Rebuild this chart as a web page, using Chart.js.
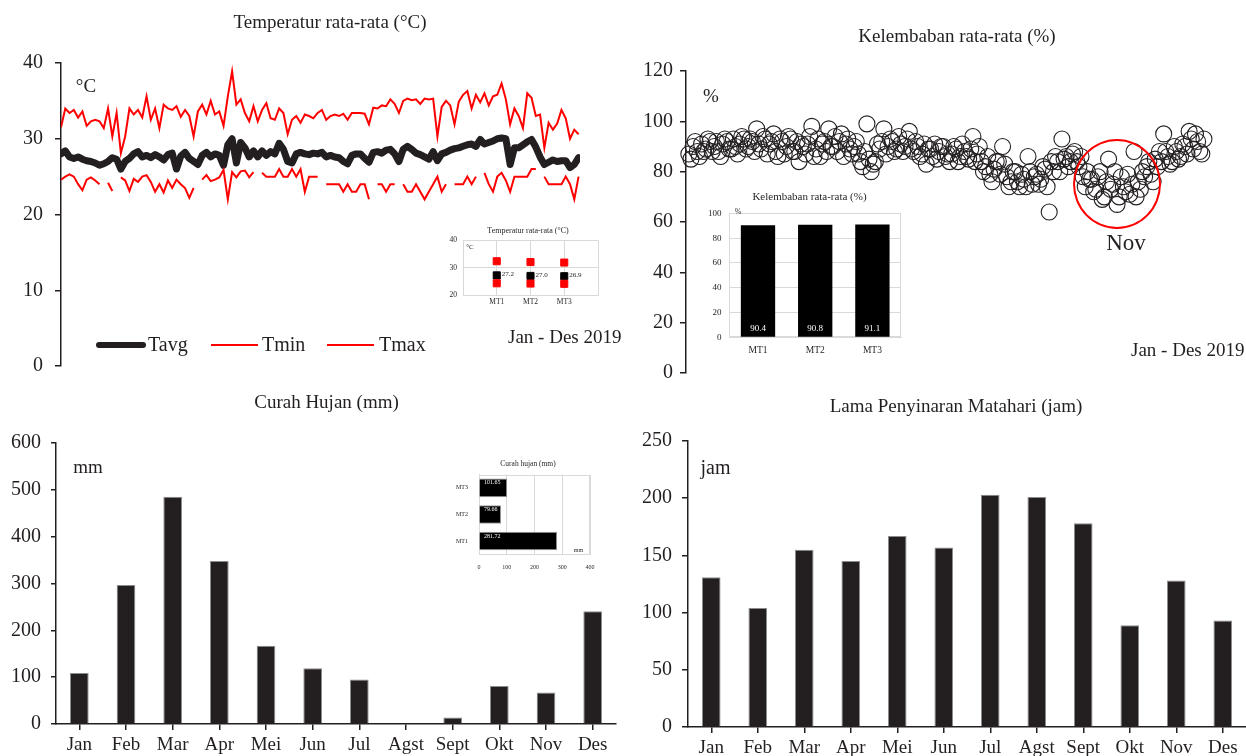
<!DOCTYPE html>
<html><head><meta charset="utf-8">
<script src="https://cdn.jsdelivr.net/npm/chart.js@4.4.1/dist/chart.umd.min.js"></script>
<style>
html,body{margin:0;padding:0;background:#fff;overflow:hidden;width:1246px;height:756px;position:relative;font-family:'Liberation Serif','Times New Roman',serif;color:#231f20}
canvas{position:absolute}
.t{position:absolute;white-space:nowrap;line-height:1}
.ln{position:absolute}
</style></head><body>
<script>
// ---------- DATA ----------
const months = ['Jan','Feb','Mar','Apr','Mei','Jun','Jul','Agst','Sept','Okt','Nov','Des'];
const rainfall = [109,297,485,348,167,119,95,0,14,81,67,241];
const sunshine = [131,104,155,145,167,157,203,201,178,89,128,93];
const stations = ['MT1','MT2','MT3'];
const stTmax = [32.4,32.1,31.9];
const stTavg = [27.2,27.0,26.9];
const stTmin = [24.3,24.2,24.1];
const stHumidity = [90.4,90.8,91.1];
const stRain = [281.72,79.66,101.65];
const dayStep = 3; // one sample every 3 days, first sample = day 1
const tmax = [31.5,34.0,33.4,33.8,32.8,33.6,31.7,32.3,32.5,32.3,
 31.4,34.0,30.3,33.4,28.1,30.3,34.0,33.2,33.8,32.8,
 35.6,32.5,34.0,31.4,34.5,34.0,33.8,34.3,32.9,33.8,
 33.0,30.3,33.6,34.5,33.2,35.0,33.2,33.6,31.7,35.6,
 38.9,34.5,35.2,33.4,32.3,34.3,32.3,33.8,34.7,32.7,
 32.5,34.0,33.4,30.6,32.5,33.0,32.1,33.2,33.0,32.7,
 33.4,33.8,
 32.5,33.0,33.2,33.0,33.3,32.5,33.4,33.4,33.4,33.3,
 31.9,34.1,34.0,34.4,34.3,35.2,34.6,33.4,35.0,35.3,
 35.1,35.2,34.6,35.3,35.2,35.3,30.3,34.2,35.0,34.4,
 31.9,34.9,35.8,36.3,34.0,35.8,34.8,36.0,34.4,35.6,
 35.8,37.3,35.2,31.9,34.0,33.0,31.4,36.0,35.4,33.0,
 33.2,28.8,32.1,31.2,32.0,33.8,32.7,30.0,31.2,30.6];
const tavg = [28.0,28.4,27.6,27.4,27.6,27.3,27.1,27.0,26.8,26.5,
 26.7,27.0,27.5,27.3,26.0,27.0,27.4,28.0,28.3,27.6,
 27.8,27.5,27.9,27.6,27.2,27.9,28.1,26.0,27.7,28.2,
 27.4,27.0,26.6,27.8,28.2,27.6,28.0,27.8,26.5,29.2,
 30.0,26.8,29.5,28.8,27.6,28.4,27.6,28.4,27.8,28.3,
 28.0,29.4,28.6,27.0,26.8,28.0,28.2,28.0,27.9,28.1,
 28.0,28.2,
 27.6,27.8,27.6,27.5,27.0,26.7,27.8,28.0,28.0,27.4,
 26.9,28.2,28.3,28.1,28.5,28.6,28.0,27.0,28.6,29.0,
 28.6,28.1,27.9,27.6,27.3,28.3,27.1,28.0,28.2,28.5,
 28.7,28.8,29.0,29.2,29.3,29.0,29.9,29.3,29.5,29.7,
 30.0,30.1,30.0,26.6,28.8,28.8,29.2,29.6,29.9,28.9,
 27.6,26.6,26.9,27.2,27.0,27.1,27.1,26.2,26.6,27.5];
const tmin = [24.6,25.0,25.3,25.0,24.0,23.2,24.6,24.9,24.5,24.0,
 null,24.2,23.1,null,24.9,24.5,23.1,24.7,24.3,25.0,
 25.2,24.3,23.0,24.0,22.9,24.5,23.5,24.6,24.0,23.5,
 22.2,23.5,null,24.6,25.2,24.4,24.6,24.9,25.9,22.0,
 25.6,24.9,25.7,25.8,24.9,25.6,null,25.5,25.0,25.0,
 25.0,26.0,25.0,25.0,26.0,25.0,26.0,23.0,25.0,25.0,
 25.0,null,
 24.0,24.0,24.0,24.0,23.0,24.0,23.0,23.0,24.0,24.0,
 22.0,null,24.0,24.0,23.0,24.0,24.0,null,24.0,23.0,
 23.0,24.0,23.0,22.0,23.0,24.0,25.0,23.0,24.0,null,
 24.0,24.0,24.0,25.0,24.0,25.0,null,25.5,24.0,23.0,
 25.0,25.5,24.5,23.0,25.0,25.0,25.0,25.0,26.0,26.0,
 null,25.0,24.0,24.0,24.0,24.0,25.0,24.0,22.0,25.0];
// humidity: main readings (days 1,4,7,...) and in-between readings (days 2.5,5.5,...)
const humidity = [87,90,88,91,89,92,90,88,91,92,
 89,90,91,93,90,92,97,89,93,91,
 95,86,92,90,93,88,84,90,91,98,
 89,86,92,97,90,88,95,91,89,90,
 87,82,99,80,84,89,97,90,92,89,
 91,90,96,88,90,87,83,89,91,88,
 90,87,
 87,89,86,88,85,94,87,84,82,79,
 81,84,90,78,76,80,74,77,86,75,
 79,77,81,64,80,84,93,86,84,88,
 82,78,80,77,73,80,70,85,75,67,
 78,72,71,88,76,80,82,79,85,88,
 95,86,84,88,86,90,96,89,92,87];
const humidityB = [85,92,86,88,93,88,92,86,93,89,
 93,87,94,89,93,88,91,94,87,92,
 88,93,87,94,88,92,91,87,94,86,
 93,91,88,90,94,92,86,93,87,92,
 84,88,85,83,91,92,87,93,88,94,
 88,93,89,92,86,91,89,86,85,90,
 86,84,
 90,84,91,86,89,84,90,80,86,76,
 84,79,83,74,80,76,79,74,80,78,
 75,82,74,84,86,80,85,82,87,84,
 86,74,77,72,78,69,76,73,80,70,
 74,79,75,70,73,78,84,76,82,84,
 88,83,90,85,91,87,93,95,88,93];

// ---------- SETUP ----------
const F = "'Liberation Serif','Times New Roman',serif";
const INK = '#231f20';
const GRID = '#d9d9d9';
Chart.defaults.font.family = F;
Chart.defaults.color = INK;
Chart.defaults.animation = false;
Chart.defaults.responsive = false;
Chart.defaults.events = [];
Chart.defaults.plugins.legend.display = false;
Chart.defaults.plugins.tooltip.enabled = false;
Chart.defaults.plugins.title.display = false;

function mk(left, top, w, h) {
  const c = document.createElement('canvas');
  c.width = w; c.height = h;
  c.style.left = left + 'px'; c.style.top = top + 'px';
  c.style.width = w + 'px'; c.style.height = h + 'px';
  document.body.appendChild(c);
  return c.getContext('2d');
}
function txt(s, x, base, size, align, color) {
  const d = document.createElement('div');
  d.className = 't';
  d.textContent = s;
  d.style.fontSize = size + 'px';
  d.style.top = (base - 0.8375 * size) + 'px';
  d.style.left = x + 'px';
  if (align === 'center') d.style.transform = 'translateX(-50%)';
  if (color) d.style.color = color;
  document.body.appendChild(d);
}
function line(x, y, w, h, color, r) {
  const d = document.createElement('div');
  d.className = 'ln';
  d.style.left = x + 'px'; d.style.top = (y - h / 2) + 'px';
  d.style.width = w + 'px'; d.style.height = h + 'px';
  d.style.background = color;
  if (r) d.style.borderRadius = r + 'px';
  document.body.appendChild(d);
}
function mainY(min, max, step, width, pad, tl) {
  return { min, max,
    ticks: { stepSize: step, font: { size: 20 }, padding: pad, color: INK },
    grid: { drawOnChartArea: false, color: INK, tickLength: tl, lineWidth: 1.5 },
    border: { color: INK, width: 1.5 },
    afterFit(s) { s.width = width; } };
}
function mainX(height, pad) {
  return { ticks: { font: { size: 19 }, padding: pad, color: INK, autoSkip: false, maxRotation: 0 },
    grid: { drawOnChartArea: false, offset: false, color: INK, tickLength: 6, lineWidth: 1.5 },
    border: { color: INK, width: 1.5 },
    afterFit(s) { s.height = height; } };
}
const frame = { id: 'frame', beforeDatasetsDraw(chart) {
  const a = chart.chartArea, c = chart.ctx;
  c.save(); c.strokeStyle = GRID; c.lineWidth = 1;
  c.strokeRect(Math.round(a.left) + 0.5, Math.round(a.top) + 0.5, Math.round(a.right - a.left) - 1, Math.round(a.bottom - a.top) - 1);
  c.restore(); } };
const pts = (arr, first) => arr.map((v, i) => ({ x: (first || 1) + dayStep * i, y: v }));

// ---------- TEMPERATURE (top-left) ----------
new Chart(mk(0, 0, 640, 390), {
  type: 'line',
  data: { datasets: [
    { label: 'Tmax', data: pts(tmax), borderColor: '#ff0000', borderWidth: 2, pointRadius: 0, tension: 0 },
    { label: 'Tmin', data: pts(tmin), borderColor: '#ff0000', borderWidth: 2, pointRadius: 0, tension: 0, spanGaps: false },
    { label: 'Tavg', data: pts(tavg), borderColor: INK, borderWidth: 7, pointRadius: 0, tension: 0, borderJoinStyle: 'round', borderCapStyle: 'round' }
  ] },
  options: {
    layout: { padding: { left: 0, right: 60, top: 63, bottom: 22 } },
    scales: { x: { type: 'linear', min: 1, max: 365, display: false }, y: mainY(0, 40, 10, 61, 12, 6) }
  }
});

// ---------- HUMIDITY (top-right) ----------
const circ = { pointRadius: 8, pointBorderWidth: 1.1, pointBorderColor: INK, pointBackgroundColor: 'rgba(0,0,0,0)', showLine: false, clip: false };
new Chart(mk(640, 0, 620, 392), {
  type: 'scatter',
  data: { datasets: [
    Object.assign({ label: 'RH', data: pts(humidity, 1) }, circ),
    Object.assign({ label: 'RH b', data: pts(humidityB, 2.5) }, circ)
  ] },
  options: {
    layout: { padding: { left: 0, right: 20, top: 71, bottom: 16 } },
    scales: { x: { type: 'linear', min: -1, max: 391, display: false }, y: mainY(0, 120, 20, 46, 7, 6) }
  }
});

// ---------- RAINFALL (bottom-left) ----------
new Chart(mk(0, 380, 660, 376), {
  type: 'bar',
  data: { labels: months, datasets: [{ label: 'Curah hujan', data: rainfall, backgroundColor: INK,
    borderColor: '#8c8c8c', borderWidth: 1, barPercentage: 0.4, categoryPercentage: 1 }] },
  options: {
    layout: { padding: { left: 0, right: 44, top: 63, bottom: 0 } },
    scales: { x: mainX(32, 4), y: mainY(0, 600, 100, 56, 10, 5) }
  }
});

// ---------- SUNSHINE (bottom-right) ----------
new Chart(mk(640, 380, 640, 376), {
  type: 'bar',
  data: { labels: months, datasets: [{ label: 'Penyinaran', data: sunshine, backgroundColor: INK,
    borderColor: '#8c8c8c', borderWidth: 1, barPercentage: 0.4, categoryPercentage: 1 }] },
  options: {
    layout: { padding: { left: 0, right: 34, top: 61, bottom: 0 } },
    scales: { x: mainX(29, 4), y: mainY(0, 250, 50, 48, 10, 6) }
  }
});

// ---------- INSET: temperature per station ----------
new Chart(mk(430, 230, 190, 84), {
  type: 'scatter',
  data: { datasets: [
    { label: 'Tmax', data: stTmax.map((v, i) => ({ x: i + 1, y: v })), pointStyle: 'rect', pointRadius: 5, backgroundColor: '#ff0000', borderColor: '#ff0000' },
    { label: 'Tmin', data: stTmin.map((v, i) => ({ x: i + 1, y: v })), pointStyle: 'rect', pointRadius: 5, backgroundColor: '#ff0000', borderColor: '#ff0000' },
    { label: 'Tavg', data: stTavg.map((v, i) => ({ x: i + 1, y: v })), pointStyle: 'rect', pointRadius: 5, backgroundColor: '#000', borderColor: '#000' }
  ] },
  options: {
    layout: { padding: { left: 0, right: 22, top: 10, bottom: 0 } },
    scales: {
      x: { type: 'linear', min: 0, max: 4, ticks: { stepSize: 1, font: { size: 7.5 }, padding: 3, callback: v => stations[v - 1] || '' },
        grid: { color: GRID, drawTicks: false }, border: { color: GRID }, afterFit(s) { s.height = 19; } },
      y: { min: 20, max: 40, ticks: { stepSize: 10, font: { size: 7.5 }, padding: 6 },
        grid: { color: GRID, drawTicks: false }, border: { color: GRID }, afterFit(s) { s.width = 33; } }
    }
  },
  plugins: [{ id: 'tlab', afterDatasetsDraw(chart) {
    const c = chart.ctx, meta = chart.getDatasetMeta(2);
    c.save(); c.font = "7px " + F; c.fillStyle = INK; c.textAlign = 'left'; c.textBaseline = 'middle';
    meta.data.forEach((el, i) => c.fillText(stTavg[i].toFixed(1), el.x + 5, el.y - 1));
    c.restore(); } }]
});

// ---------- INSET: humidity per station ----------
new Chart(mk(700, 200, 218, 165), {
  type: 'bar',
  data: { labels: stations, datasets: [{ label: 'RH', data: stHumidity, backgroundColor: '#000', barPercentage: 0.6, categoryPercentage: 1 }] },
  options: {
    layout: { padding: { left: 0, right: 17, top: 10.7, bottom: 0 } },
    scales: {
      x: { ticks: { font: { size: 9.5 }, padding: 7 }, grid: { display: false, drawTicks: false }, border: { color: GRID }, afterFit(s) { s.height = 27.7; } },
      y: { min: 0, max: 100, ticks: { stepSize: 20, font: { size: 9 }, padding: 8 },
        grid: { color: GRID, drawTicks: false }, border: { color: GRID }, afterFit(s) { s.width = 29.4; } }
    }
  },
  plugins: [frame, { id: 'hlab', afterDatasetsDraw(chart) {
    const c = chart.ctx, meta = chart.getDatasetMeta(0), y0 = chart.scales.y.getPixelForValue(0);
    c.save(); c.font = "9px " + F; c.fillStyle = '#fff'; c.textAlign = 'center'; c.textBaseline = 'middle';
    meta.data.forEach((el, i) => c.fillText(stHumidity[i].toFixed(1), el.x, y0 - 9));
    c.restore(); } }]
});

// ---------- INSET: rainfall per station ----------
new Chart(mk(446, 460, 164, 116), {
  type: 'bar',
  data: { labels: stations, datasets: [{ label: 'CH', data: stRain, backgroundColor: '#000', borderColor: '#9a9a9a', borderWidth: 1, barPercentage: 0.7, categoryPercentage: 1 }] },
  options: {
    indexAxis: 'y',
    layout: { padding: { left: 0, right: 20, top: 10.7, bottom: 0 } },
    scales: {
      x: { type: 'linear', min: 0, max: 400, ticks: { stepSize: 100, font: { size: 6 }, padding: 10 },
        grid: { color: GRID, drawTicks: false }, border: { color: GRID }, afterFit(s) { s.height = 21.7; } },
      y: { reverse: true, ticks: { font: { size: 6 }, padding: 11 }, grid: { display: false, drawTicks: false }, border: { color: GRID },
        afterFit(s) { s.width = 33; } }
    }
  },
  plugins: [frame, { id: 'rlab', afterDatasetsDraw(chart) {
    const c = chart.ctx, meta = chart.getDatasetMeta(0), x0 = chart.scales.x.getPixelForValue(0);
    c.save(); c.font = "6px " + F; c.fillStyle = '#fff'; c.textAlign = 'left'; c.textBaseline = 'middle';
    meta.data.forEach((el, i) => c.fillText(stRain[i].toFixed(2), x0 + 5, el.y - 5));
    c.restore(); } }]
});

// ---------- TEXT ANNOTATIONS ----------
txt('Temperatur rata-rata (°C)', 330, 28.3, 19, 'center');
txt('Kelembaban rata-rata (%)', 957, 41.7, 19, 'center');
txt('Curah Hujan (mm)', 326.5, 408.3, 19, 'center');
txt('Lama Penyinaran Matahari (jam)', 956, 411.7, 19, 'center');

txt('°C', 86, 92, 19, 'center');
line(96, 345, 50, 6.5, INK, 3.25); txt('Tavg', 148, 350.7, 20);
line(211, 345, 47, 2, '#ff0000'); txt('Tmin', 262, 350.7, 20);
line(327, 345, 47, 2, '#ff0000'); txt('Tmax', 379, 350.7, 20);
txt('Jan - Des 2019', 508, 343.3, 19);

txt('%', 711, 101.7, 19, 'center');
txt('Nov', 1126, 250, 23, 'center');
txt('Jan - Des 2019', 1131, 356, 19);
(function () {
  const d = document.createElement('div');
  d.style.cssText = 'position:absolute;left:1072.7px;top:139.3px;width:88px;height:90px;border:2.5px solid #ff0000;border-radius:50%;box-sizing:border-box';
  document.body.appendChild(d);
})();

txt('mm', 88, 473, 19, 'center');
txt('jam', 715.5, 473.3, 20, 'center');

txt('Temperatur rata-rata (°C)', 528, 234, 8, 'center');
txt('°C', 470, 250, 7, 'center');
txt('Kelembaban rata-rata (%)', 809.5, 200, 11, 'center');
txt('%', 738, 215, 8, 'center');
txt('Curah hujan (mm)', 528, 466, 7.5, 'center');
txt('mm', 578.5, 552, 6, 'center');
</script>
</body></html>
